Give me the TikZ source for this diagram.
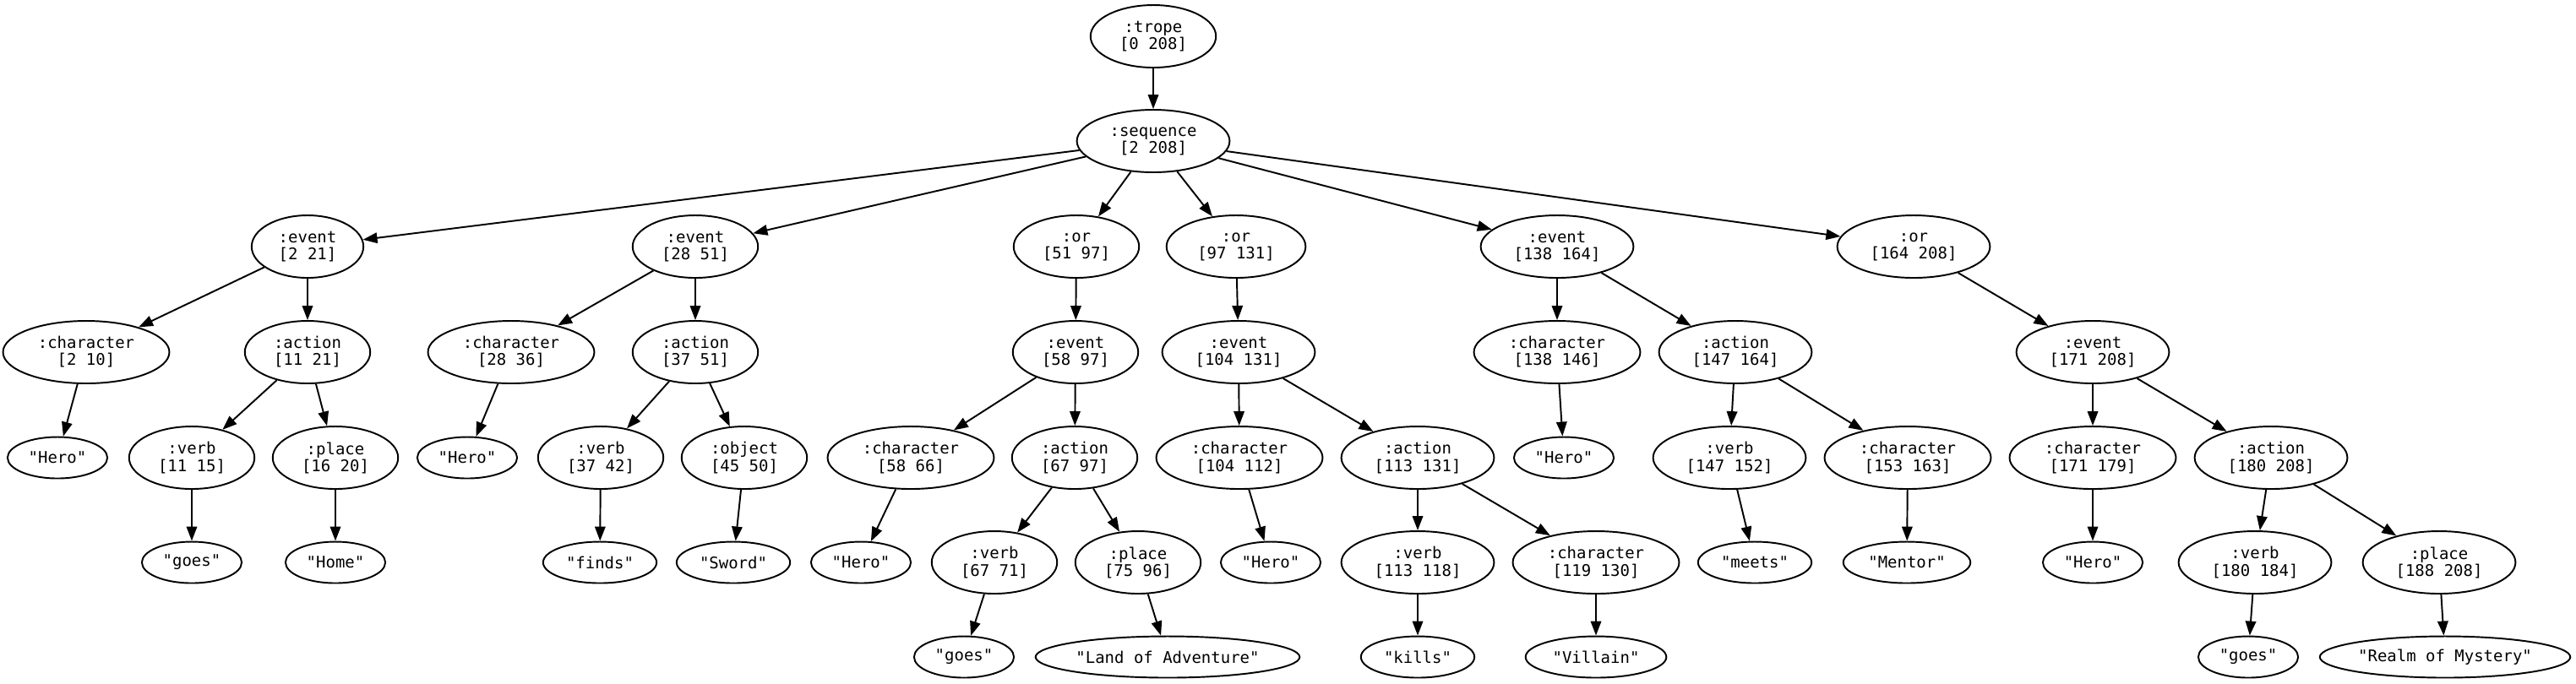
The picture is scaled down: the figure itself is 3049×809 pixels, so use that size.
\documentclass[tikz,border=0pt]{standalone}
\usepackage{fontspec}
\setmonofont{DejaVu Sans Mono}
\usepackage{tikz}
\usetikzlibrary{shapes,arrows.meta}
\tikzstyle{nonterm} = [draw, ellipse, align=center, line width=0.55pt,
    inner xsep=1.25mm, inner ysep=0.1mm, minimum height=7.4mm,
    font=\ttfamily\fontsize{5.4}{5.7}\selectfont]
\tikzstyle{term} = [nonterm, inner xsep=0.75mm, minimum height=4.9mm]
\tikzstyle{longterm} = [term, inner xsep=0.2mm]
\tikzstyle{line} = [draw, line width=0.55pt, -{Triangle[length=1.7mm, width=1.25mm]}]

\begin{document}
\begin{tikzpicture}[x=0.1mm, y=-0.1mm]
  \useasboundingbox (0,0) rectangle (3049,809);
  % Place nodes
  \node [nonterm] (trope) at (1365,43) {:trope\\{[0 208]}};
  \node [nonterm] (seq) at (1365,167) {:sequence\\{[2 208]}};

  % rank 2
  \node [nonterm] (ev1) at (364,292) {:event\\{[2 21]}};
  \node [nonterm] (ev2) at (823,292) {:event\\{[28 51]}};
  \node [nonterm] (or1) at (1274,292) {:or\\{[51 97]}};
  \node [nonterm] (or2) at (1463,292) {:or\\{[97 131]}};
  \node [nonterm] (ev5) at (1843,292) {:event\\{[138 164]}};
  \node [nonterm] (or3) at (2265,292) {:or\\{[164 208]}};

  % rank 3
  \node [nonterm] (ch1) at (102,417) {:character\\{[2 10]}};
  \node [nonterm] (ac1) at (364,417) {:action\\{[11 21]}};
  \node [nonterm] (ch2) at (605,417) {:character\\{[28 36]}};
  \node [nonterm] (ac2) at (823,417) {:action\\{[37 51]}};
  \node [nonterm] (ev3) at (1273,417) {:event\\{[58 97]}};
  \node [nonterm] (ev4) at (1466,417) {:event\\{[104 131]}};
  \node [nonterm] (ch5) at (1843,417) {:character\\{[138 146]}};
  \node [nonterm] (ac5) at (2054,417) {:action\\{[147 164]}};
  \node [nonterm] (ev6) at (2477,417) {:event\\{[171 208]}};

  % rank 4
  \node [term] (hero1) at (68,542) {"Hero"};
  \node [nonterm] (vb1) at (227,542) {:verb\\{[11 15]}};
  \node [nonterm] (pl1) at (397,542) {:place\\{[16 20]}};
  \node [term] (hero2) at (553,542) {"Hero"};
  \node [nonterm] (vb2) at (711,542) {:verb\\{[37 42]}};
  \node [nonterm] (ob2) at (881,542) {:object\\{[45 50]}};
  \node [nonterm] (ch3) at (1078,542) {:character\\{[58 66]}};
  \node [nonterm] (ac3) at (1272,542) {:action\\{[67 97]}};
  \node [nonterm] (ch4) at (1467,542) {:character\\{[104 112]}};
  \node [nonterm] (ac4) at (1678,542) {:action\\{[113 131]}};
  \node [term] (hero5) at (1851,542) {"Hero"};
  \node [nonterm] (vb5) at (2047,542) {:verb\\{[147 152]}};
  \node [nonterm] (ch5b) at (2258,542) {:character\\{[153 163]}};
  \node [nonterm] (ch6) at (2477,542) {:character\\{[171 179]}};
  \node [nonterm] (ac6) at (2688,542) {:action\\{[180 208]}};

  % rank 5
  \node [term] (goes1) at (227,666) {"goes"};
  \node [term] (home) at (397,666) {"Home"};
  \node [term] (finds) at (710,666) {"finds"};
  \node [term] (sword) at (868,666) {"Sword"};
  \node [term] (hero3) at (1019,666) {"Hero"};
  \node [nonterm] (vb3) at (1177,666) {:verb\\{[67 71]}};
  \node [nonterm] (pl3) at (1347,666) {:place\\{[75 96]}};
  \node [term] (hero4) at (1504,666) {"Hero"};
  \node [nonterm] (vb4) at (1678,666) {:verb\\{[113 118]}};
  \node [nonterm] (ch4b) at (1889,666) {:character\\{[119 130]}};
  \node [term] (meets) at (2077,666) {"meets"};
  \node [term] (mentor) at (2257,666) {"Mentor"};
  \node [term] (hero6) at (2477,666) {"Hero"};
  \node [nonterm] (vb6) at (2669,666) {:verb\\{[180 184]}};
  \node [nonterm] (pl6) at (2887,666) {:place\\{[188 208]}};

  % rank 6
  \node [term] (goes3) at (1141,778) {"goes"};
  \node [longterm] (land) at (1382,778) {"Land of Adventure"};
  \node [term] (kills) at (1678,778) {"kills"};
  \node [term] (villain) at (1889,778) {"Villain"};
  \node [term] (goes6) at (2661,778) {"goes"};
  \node [longterm] (realm) at (2894,778) {"Realm of Mystery"};

  % Draw edges
  \path [line] (trope) -- (seq);
  \path [line] (seq) -- (ev1);
  \path [line] (seq) -- (ev2);
  \path [line] (seq) -- (or1);
  \path [line] (seq) -- (or2);
  \path [line] (seq) -- (ev5);
  \path [line] (seq) -- (or3);

  \path [line] (ev1) -- (ch1);
  \path [line] (ev1) -- (ac1);
  \path [line] (ch1) -- (hero1);
  \path [line] (ac1) -- (vb1);
  \path [line] (ac1) -- (pl1);
  \path [line] (vb1) -- (goes1);
  \path [line] (pl1) -- (home);

  \path [line] (ev2) -- (ch2);
  \path [line] (ev2) -- (ac2);
  \path [line] (ch2) -- (hero2);
  \path [line] (ac2) -- (vb2);
  \path [line] (ac2) -- (ob2);
  \path [line] (vb2) -- (finds);
  \path [line] (ob2) -- (sword);

  \path [line] (or1) -- (ev3);
  \path [line] (ev3) -- (ch3);
  \path [line] (ev3) -- (ac3);
  \path [line] (ch3) -- (hero3);
  \path [line] (ac3) -- (vb3);
  \path [line] (ac3) -- (pl3);
  \path [line] (vb3) -- (goes3);
  \path [line] (pl3) -- (land);

  \path [line] (or2) -- (ev4);
  \path [line] (ev4) -- (ch4);
  \path [line] (ev4) -- (ac4);
  \path [line] (ch4) -- (hero4);
  \path [line] (ac4) -- (vb4);
  \path [line] (ac4) -- (ch4b);
  \path [line] (vb4) -- (kills);
  \path [line] (ch4b) -- (villain);

  \path [line] (ev5) -- (ch5);
  \path [line] (ev5) -- (ac5);
  \path [line] (ch5) -- (hero5);
  \path [line] (ac5) -- (vb5);
  \path [line] (ac5) -- (ch5b);
  \path [line] (vb5) -- (meets);
  \path [line] (ch5b) -- (mentor);

  \path [line] (or3) -- (ev6);
  \path [line] (ev6) -- (ch6);
  \path [line] (ev6) -- (ac6);
  \path [line] (ch6) -- (hero6);
  \path [line] (ac6) -- (vb6);
  \path [line] (ac6) -- (pl6);
  \path [line] (vb6) -- (goes6);
  \path [line] (pl6) -- (realm);

\end{tikzpicture}
\end{document}
